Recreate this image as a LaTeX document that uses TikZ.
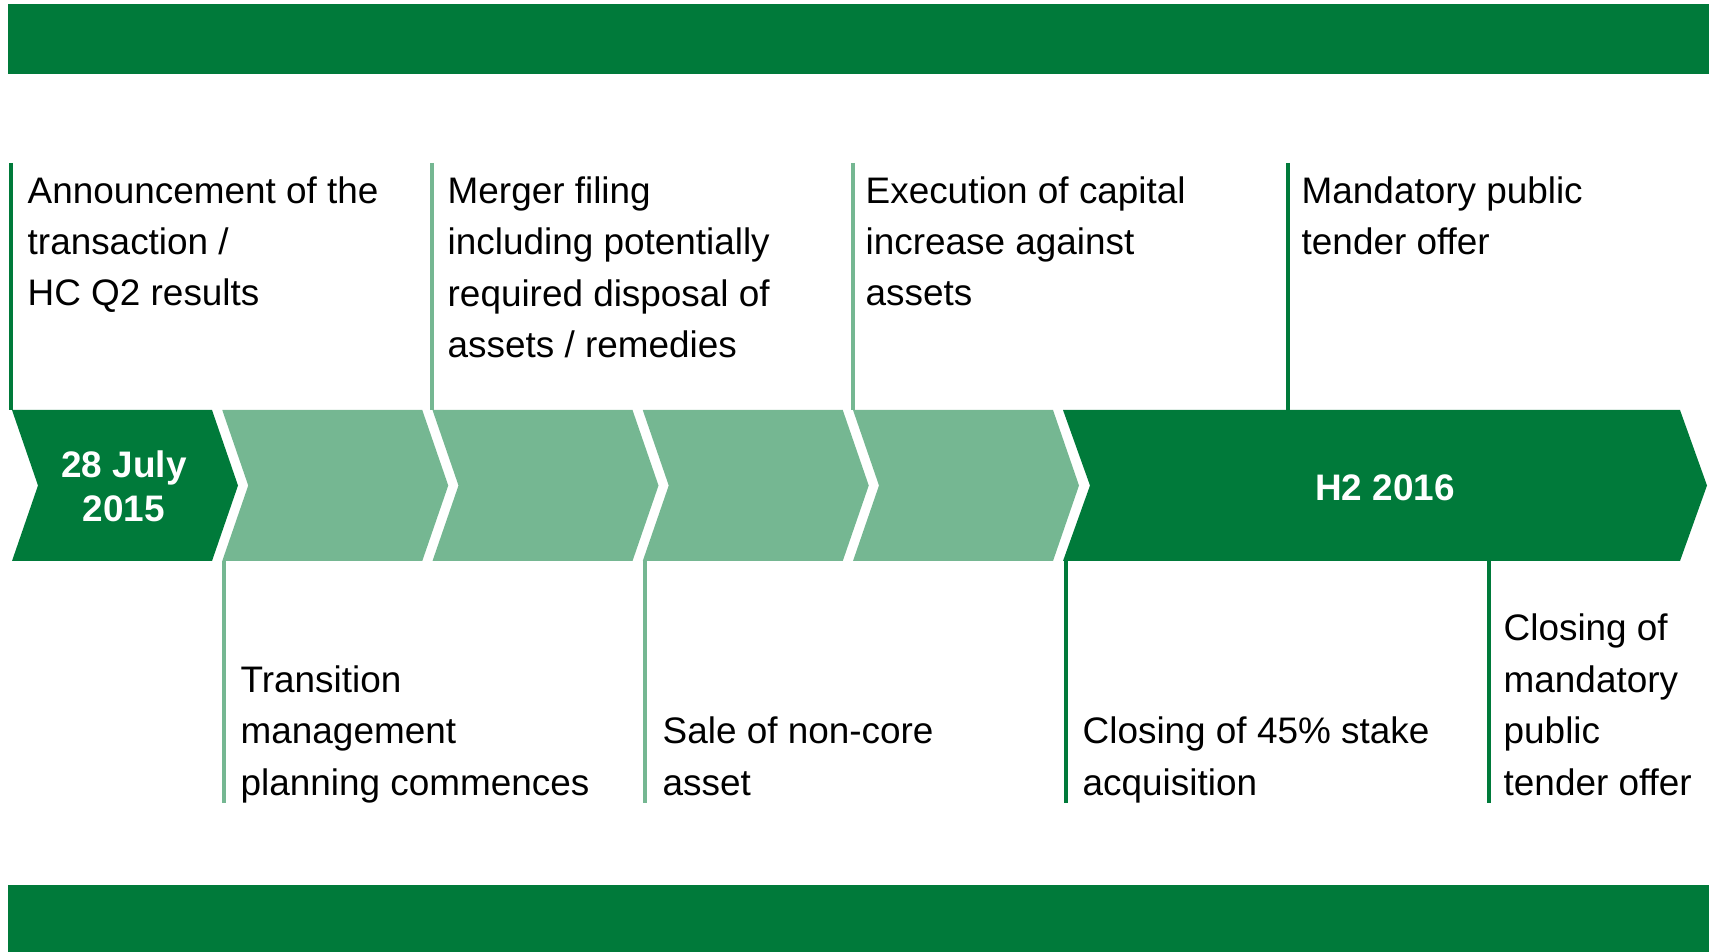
\documentclass[tikz,border=0pt]{standalone}
\usepackage{fontspec}
\setmainfont{Liberation Sans}

\definecolor{hgreen}{RGB}{0,122,58}
\definecolor{hlight}{RGB}{117,183,146}

\tikzset{
  event/.style={anchor=base west, align=left, inner sep=0pt,
    font=\fontsize{10.5}{14.65}\selectfont},
  datelabel/.style={anchor=base, align=center, inner sep=0pt, text=white,
    font=\bfseries\fontsize{10.5}{12.8}\selectfont},
  tick/.style={line width=1pt},
}

\begin{document}
\begin{tikzpicture}[x=0.1mm, y=-0.1mm]
        \useasboundingbox (0, 0) rectangle (1712, 952);

        % green bars top and bottom
        \fill[hgreen] (8, 4) rectangle (1709, 74);
        \fill[hgreen] (8, 885) rectangle (1709, 952);

        % chevrons
        \fill[hgreen] (12, 410) -- (212, 410) -- (238, 485.5) -- (212, 561)
            -- (12, 561) -- (38, 485.5) -- cycle;
        \foreach \i in {1,...,4} {
            \pgfmathsetmacro{\l}{12 + 210.25*\i}
            \fill[hlight] (\l, 410) -- (\l+200, 410) -- (\l+226, 485.5)
                -- (\l+200, 561) -- (\l, 561) -- (\l+26, 485.5) -- cycle;
        }
        \fill[hgreen] (1063, 410) -- (1680, 410) -- (1707, 485.5) -- (1680, 561)
            -- (1063, 561) -- (1090, 485.5) -- cycle;

        % base of a multi-line node sits on its last line
        \node[datelabel] (start) at (124, 522) {28 July\\2015};
        \node[datelabel] (h2) at (1385, 500) {H2 2016};

        % ticks above the chevrons
        \draw[tick, hgreen] (11, 163) -- (11, 410);
        \draw[tick, hlight] (432, 163) -- (432, 410);
        \draw[tick, hlight] (853, 163) -- (853, 410);
        \draw[tick, hgreen] (1288, 163) -- (1288, 410);
        % ticks below
        \draw[tick, hlight] (224, 561) -- (224, 803);
        \draw[tick, hlight] (645, 561) -- (645, 803);
        \draw[tick, hgreen] (1066, 561) -- (1066, 803);
        \draw[tick, hgreen] (1489, 561) -- (1489, 803);

        % events above
        \node[event] (announce) at (27, 306) {Announcement of the\\transaction /\\HC Q2 results};
        \node[event] (filing) at (447, 357.5) {Merger filing\\including potentially\\required disposal of\\assets / remedies};
        \node[event] (capital) at (865, 306) {Execution of capital\\increase against\\assets};
        \node[event] (offer) at (1301, 254.5) {Mandatory public\\tender offer};

        % events below
        \node[event] (transition) at (240, 795) {Transition\\management\\planning commences};
        \node[event] (sale) at (662, 795) {Sale of non-core\\asset};
        \node[event] (stake) at (1082, 795) {Closing of 45\% stake\\acquisition};
        \node[event] (closing) at (1503, 795) {Closing of\\mandatory\\public\\tender offer};
    \end{tikzpicture}
\end{document}
